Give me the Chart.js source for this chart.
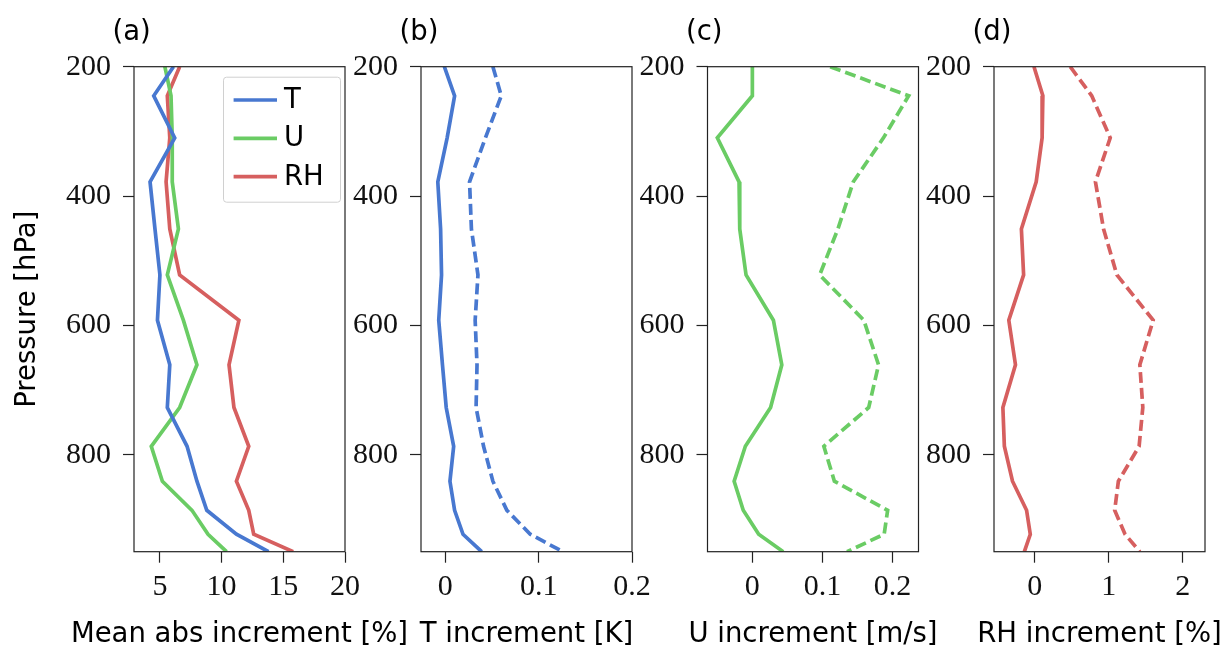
<!DOCTYPE html>
<html>
<head>
<meta charset="utf-8">
<script src="https://cdn.jsdelivr.net/npm/chart.js@4.4.0/dist/chart.umd.min.js"></script>
<style>
  body { margin: 0; background: #fff; width: 1223px; height: 646px; position: relative; overflow: hidden; }
  canvas { position: absolute; top: 0; left: 0; }
</style>
</head>
<body>
<canvas id="panelA" width="1223" height="646"></canvas>
<canvas id="panelB" width="1223" height="646"></canvas>
<canvas id="panelC" width="1223" height="646"></canvas>
<canvas id="panelD" width="1223" height="646"></canvas>
<script>
// pressure levels (hPa), top of profile first
const levels = [200, 245, 310, 378, 451, 522, 592, 661, 727, 787, 841, 886, 923, 950];
const pressureTicks = [200, 400, 600, 800];

// (a) mean absolute increment [%]
const meanAbsT  = [6.1, 4.5, 6.2, 4.2, 4.6, 5.0, 4.8, 5.8, 5.6, 7.2, 8.0, 8.8, 11.2, 13.8];
const meanAbsU  = [5.4, 5.9, 6.0, 6.0, 6.5, 5.6, 6.9, 8.0, 6.6, 4.3, 5.2, 7.6, 8.9, 10.4];
const meanAbsRH = [6.6, 5.6, 5.8, 5.5, 5.8, 6.6, 11.4, 10.6, 11.0, 12.2, 11.2, 12.2, 12.6, 15.8];
const ticksA = [5, 10, 15, 20];

// (b) T increment [K]
const tIncSolid = [-0.001, 0.010, 0.002, -0.008, -0.005, -0.004, -0.007, -0.003, 0.001, 0.009, 0.005, 0.010, 0.019, 0.039];
const tIncDash  = [0.051, 0.060, 0.043, 0.026, 0.028, 0.035, 0.032, 0.034, 0.033, 0.041, 0.051, 0.066, 0.091, 0.126];
const ticksB = [0, 0.1, 0.2];

// (c) U increment [m/s]
const uIncSolid = [0.0, 0.0, -0.050, -0.019, -0.018, -0.009, 0.030, 0.042, 0.026, -0.010, -0.026, -0.013, 0.009, 0.044];
const uIncDash  = [0.111, 0.223, 0.187, 0.144, 0.122, 0.096, 0.159, 0.180, 0.166, 0.102, 0.117, 0.193, 0.188, 0.135];
const ticksC = [0, 0.1, 0.2];

// (d) RH increment [%]
const rhIncSolid = [-0.01, 0.11, 0.10, 0.02, -0.18, -0.15, -0.35, -0.26, -0.43, -0.41, -0.30, -0.11, -0.06, -0.14];
const rhIncDash  = [0.48, 0.77, 1.02, 0.82, 0.93, 1.11, 1.60, 1.42, 1.46, 1.41, 1.13, 1.08, 1.22, 1.42];
const ticksD = [0, 1, 2];

const BLUE = '#4878d0', GREEN = '#6acc64', RED = '#d65f5f';
const SANS = 'DejaVu Sans';
const SERIF = 'Liberation Serif';
const AXIS_W = 134;      // room left of each plot for tick labels
const PLOT_W = 211;
const PLOT_TOP = 66.7;
const X_AXIS_H = 94.3;
const LINE_W = 3.7;

function profile(values) {
    return values.map((v, i) => ({x: v, y: levels[i]}));
}

function line(label, values, color, dashed) {
    return {
        label: label,
        data: profile(values),
        borderColor: color,
        backgroundColor: color,
        borderWidth: LINE_W,
        borderDash: dashed ? [11, 5] : [],
        pointRadius: 0,
        showLine: true,
        tension: 0
    };
}

// frame around the plot area, panel letter and x-axis label
const framePlugin = {
    id: 'frame',
    afterDraw(chart, args, opts) {
        const {ctx, chartArea: a} = chart;
        ctx.save();
        ctx.strokeStyle = '#222';
        ctx.lineWidth = 1.2;
        ctx.strokeRect(a.left, a.top, a.right - a.left, a.bottom - a.top);
        ctx.fillStyle = '#000';
        ctx.font = `27.5px ${SANS}`;
        ctx.textBaseline = 'alphabetic';
        ctx.textAlign = 'left';
        ctx.fillText(opts.letter, a.left - 21.5, 40);
        ctx.textAlign = 'center';
        ctx.fillText(opts.xTitle, (a.left + a.right) / 2, 641.5);
        ctx.restore();
    }
};

// boxed legend in the upper right of panel (a)
const boxLegend = {
    id: 'boxLegend',
    afterDraw(chart, args, opts) {
        if (!opts.show) return;
        const {ctx, chartArea: a} = chart;
        const w = 117, h = 125;
        const x0 = a.right - 5 - w, y0 = a.top + 10;
        ctx.save();
        ctx.fillStyle = 'rgba(255,255,255,0.85)';
        ctx.strokeStyle = '#d0d0d0';
        ctx.lineWidth = 1;
        ctx.beginPath();
        ctx.roundRect(x0 + 0.5, y0 + 0.5, w, h, 3);
        ctx.fill();
        ctx.stroke();
        ctx.font = `27.5px ${SANS}`;
        ctx.textBaseline = 'middle';
        chart.data.datasets.forEach((ds, i) => {
            const y = y0 + 23.3 + i * 38.3;
            ctx.strokeStyle = ds.borderColor;
            ctx.lineWidth = LINE_W;
            ctx.beginPath();
            ctx.moveTo(x0 + 10.6, y);
            ctx.lineTo(x0 + 54, y);
            ctx.stroke();
            ctx.fillStyle = '#000';
            ctx.fillText(ds.label, x0 + 61, y + 1);
        });
        ctx.restore();
    }
};

function makePanel(id, plotLeft, letter, datasets, xMin, xMax, xTicks, xTitle, showYTitle, showLegend) {
    new Chart(document.getElementById(id), {
        type: 'scatter',
        data: {datasets: datasets},
        plugins: [framePlugin, boxLegend],
        options: {
            responsive: false,
            animation: false,
            layout: {
                padding: {
                    top: PLOT_TOP,
                    right: 1223 - plotLeft - PLOT_W,
                    bottom: 0,
                    left: plotLeft - AXIS_W
                }
            },
            plugins: {
                legend: {display: false},
                tooltip: {enabled: false},
                frame: {letter: letter, xTitle: xTitle},
                boxLegend: {show: showLegend}
            },
            scales: {
                x: {
                    type: 'linear',
                    min: xMin,
                    max: xMax,
                    afterBuildTicks: s => { s.ticks = xTicks.map(v => ({value: v})); },
                    afterFit: s => { s.height = X_AXIS_H; s.paddingLeft = 0; s.paddingRight = 0; },
                    border: {display: false},
                    grid: {drawOnChartArea: false, drawTicks: true, tickLength: 11, tickColor: '#222', tickWidth: 1.2},
                    ticks: {
                        font: {family: SERIF, size: 30},
                        color: '#111',
                        padding: 6,
                        maxRotation: 0,
                        autoSkip: false,
                        callback: v => String(v)
                    }
                },
                y: {
                    type: 'linear',
                    reverse: true,
                    min: 200,
                    max: 950,
                    afterBuildTicks: s => { s.ticks = pressureTicks.map(v => ({value: v})); },
                    afterFit: s => { s.width = AXIS_W; s.paddingTop = 0; s.paddingBottom = 0; },
                    border: {display: false},
                    grid: {drawOnChartArea: false, drawTicks: true, tickLength: 11, tickColor: '#222', tickWidth: 1.2},
                    ticks: {
                        font: {family: SERIF, size: 30},
                        color: '#111',
                        padding: 12,
                        autoSkip: false,
                        callback: v => String(v)
                    },
                    title: {
                        display: showYTitle,
                        text: 'Pressure [hPa]',
                        color: '#000',
                        font: {family: SANS, size: 27.5, lineHeight: 1},
                        padding: {top: 14.5, bottom: 0}
                    }
                }
            }
        }
    });
}

makePanel('panelA', 134, '(a)', [
    line('T', meanAbsT, BLUE, false),
    line('U', meanAbsU, GREEN, false),
    line('RH', meanAbsRH, RED, false)
], 2.9, 20, ticksA, 'Mean abs increment [%]', true, true);

makePanel('panelB', 421, '(b)', [
    line('T', tIncSolid, BLUE, false),
    line('T dashed', tIncDash, BLUE, true)
], -0.026, 0.2, ticksB, 'T increment [K]', false, false);

makePanel('panelC', 707.5, '(c)', [
    line('U', uIncSolid, GREEN, false),
    line('U dashed', uIncDash, GREEN, true)
], -0.064, 0.237, ticksC, 'U increment [m/s]', false, false);

makePanel('panelD', 994, '(d)', [
    line('RH', rhIncSolid, RED, false),
    line('RH dashed', rhIncDash, RED, true)
], -0.55, 2.3, ticksD, 'RH increment [%]', false, false);
</script>
</body>
</html>
